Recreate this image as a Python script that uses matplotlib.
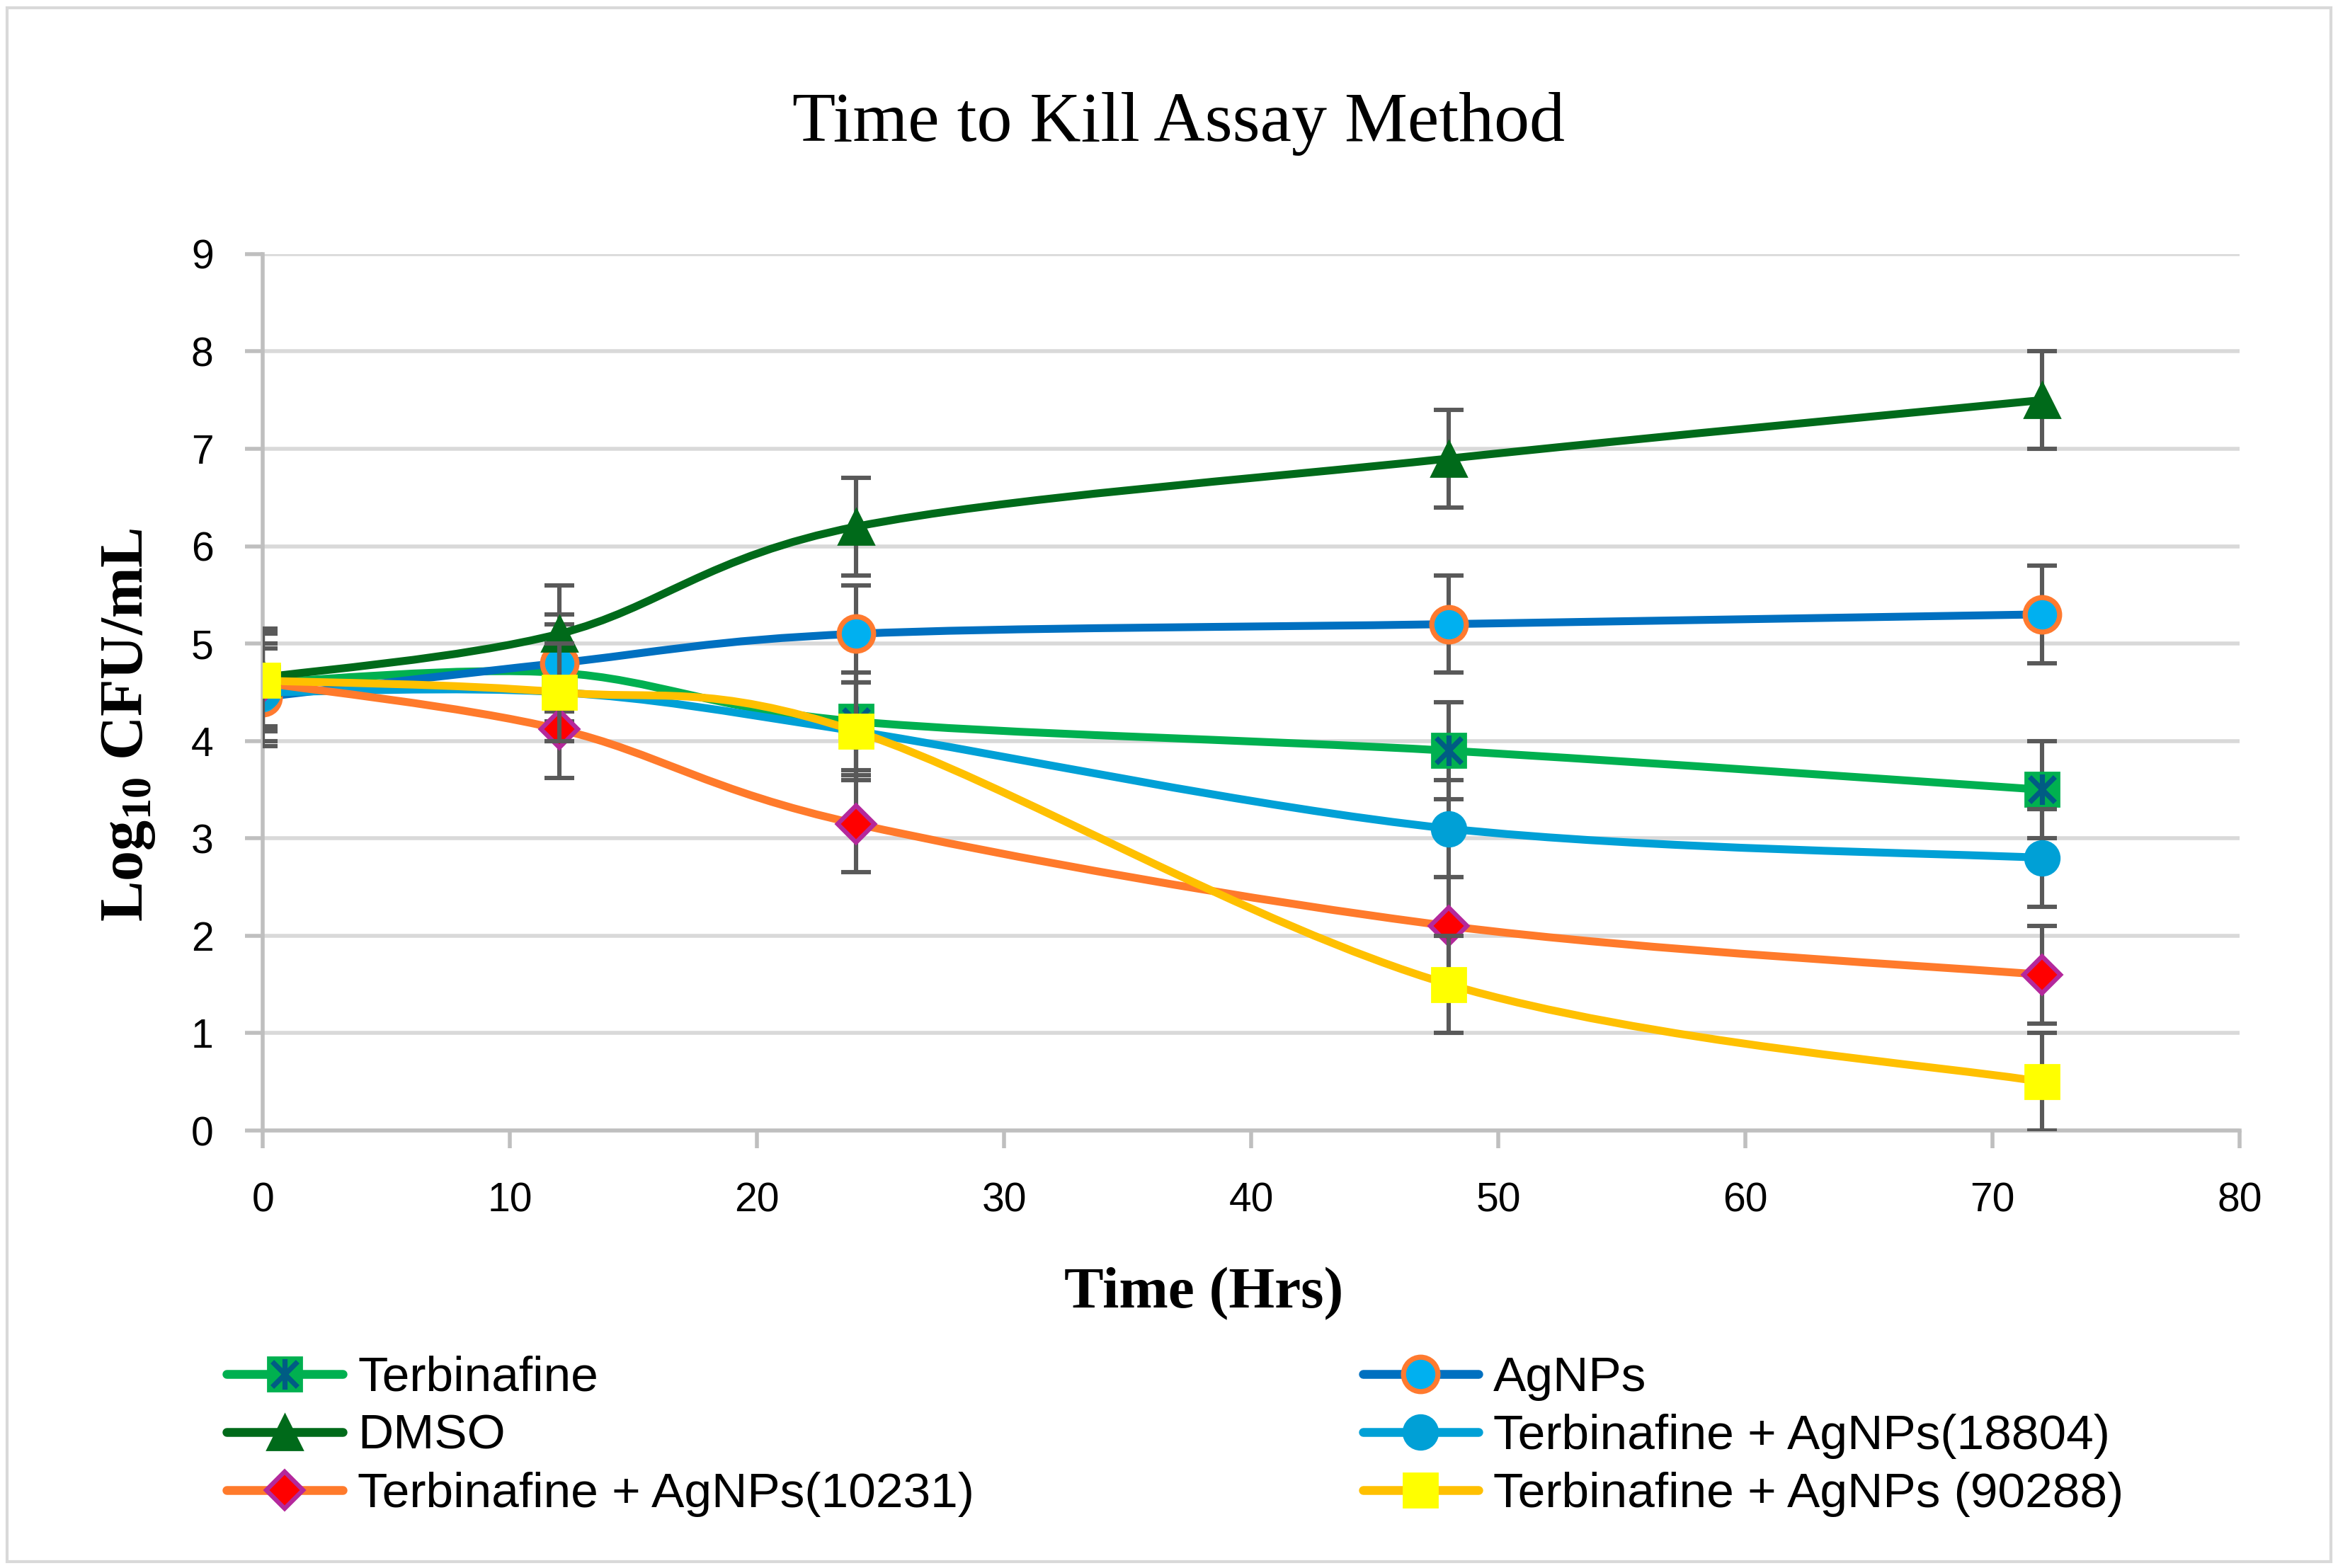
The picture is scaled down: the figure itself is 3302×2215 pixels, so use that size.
import matplotlib
matplotlib.use('Agg')
import matplotlib.pyplot as plt
from matplotlib.path import Path
from matplotlib.patches import PathPatch, Rectangle
from matplotlib.lines import Line2D
from matplotlib.legend_handler import HandlerTuple
import numpy as np

plt.rcParams['font.family'] = ['Liberation Sans', 'DejaVu Sans']
plt.rcParams['mathtext.default'] = 'regular'

# data (Log10 CFU/mL vs time in hours)
hours = [0, 12, 24, 48, 72]
terbinafine = [4.6, 4.7, 4.2, 3.9, 3.5]
agnps = [4.45, 4.8, 5.1, 5.2, 5.3]
dmso = [4.65, 5.1, 6.2, 6.9, 7.5]
terb_agnps_18804 = [4.5, 4.5, 4.1, 3.1, 2.8]
terb_agnps_10231 = [4.6, 4.12, 3.15, 2.1, 1.6]
terb_agnps_90288 = [4.62, 4.5, 4.1, 1.5, 0.5]
std_err = [0.5, 0.5, 0.5, 0.5, 0.5]

labels = ['Terbinafine', 'AgNPs', 'DMSO', 'Terbinafine + AgNPs(18804)',
          'Terbinafine + AgNPs(10231)', 'Terbinafine + AgNPs (90288)']


def smooth_path(x, y):
    '''Excel-like smoothed line: Catmull-Rom segments as cubic beziers'''
    pts = np.column_stack([x, y]).astype(float)
    ext = np.vstack([pts[0], pts, pts[-1]])
    verts = [pts[0]]
    codes = [Path.MOVETO]
    for i in range(len(pts) - 1):
        p0, p1, p2, p3 = ext[i], ext[i + 1], ext[i + 2], ext[i + 3]
        verts += [p1 + (p2 - p0) / 6, p2 - (p3 - p1) / 6, p2]
        codes += [Path.CURVE4] * 3
    return Path(verts, codes)


star_path = Path([(-1, -1), (1, 1), (-1, 1), (1, -1), (0, -1.2), (0, 1.2)],
                 [Path.MOVETO, Path.LINETO] * 3)

fig = plt.figure(figsize=(16.51, 11.075), dpi=200)
ax = fig.add_axes([0.1124, 0.279, 0.8456, 0.559])

LW = 4.0
series = [
    (terbinafine, '#00B050', dict(marker='s', ms=17.5, mfc='#00B050', mec='#00B050', mew=1)),
    (agnps, '#0070C0', dict(marker='o', ms=17.5, mfc='#00B0F0', mec='#FF7A2F', mew=2.6)),
    (dmso, '#006A1A', dict(marker='^', ms=18, mfc='#006A1A', mec='#006A1A', mew=1)),
    (terb_agnps_18804, '#00A0D6', dict(marker='o', ms=17.5, mfc='#00A0D6', mec='#00A0D6', mew=1)),
    (terb_agnps_10231, '#FF7A2B', dict(marker='D', ms=13, mfc='#FF0000', mec='#B4289C', mew=2.3)),
    (terb_agnps_90288, '#FFC000', dict(marker='s', ms=17.5, mfc='#FFFF00', mec='#FFFF00', mew=1)),
]

handles = []
for i, (vals, color, mk) in enumerate(series):
    z = 3 + i
    ax.errorbar(hours, vals, yerr=std_err, fmt='none', ecolor='#595959',
                elinewidth=2.2, capsize=7.5, capthick=2.2, zorder=z)
    ax.add_patch(PathPatch(smooth_path(hours, vals), fill=False, edgecolor=color,
                           lw=LW, capstyle='round', zorder=z + 0.1))
    ax.plot(hours, vals, linestyle='none', zorder=z + 0.2, **mk)
    h = Line2D([], [], color=color, lw=LW + 0.5, solid_capstyle='round', **mk)
    if i == 0:
        ax.plot(hours, vals, linestyle='none', marker=star_path, ms=15.5,
                mfc='none', mec='#005C84', mew=2.6, zorder=z + 0.3)
        h = (h, Line2D([], [], linestyle='none', marker=star_path, ms=15.5,
                       mfc='none', mec='#005C84', mew=2.6))
    handles.append(h)

ax.set_xlim(0, 80)
ax.set_ylim(0, 9)
ax.set_xticks(range(0, 81, 10))
ax.set_yticks(range(0, 10))
ax.yaxis.grid(True, color='#D9D9D9', lw=2)
ax.set_axisbelow(True)
for s in ['top', 'right']:
    ax.spines[s].set_visible(False)
for s in ['left', 'bottom']:
    ax.spines[s].set_color('#BFBFBF')
    ax.spines[s].set_linewidth(2)
ax.tick_params(axis='both', colors='#BFBFBF', length=9, width=2, labelsize=20.5,
               labelcolor='black')
ax.tick_params(axis='x', pad=17)
ax.tick_params(axis='y', pad=16)

fig.text(0.504, 0.921, 'Time to Kill Assay Method', ha='center', va='center',
         fontsize=36, family='Liberation Serif')
fig.text(0.515, 0.175, 'Time (Hrs)', ha='center', va='center', fontsize=30,
         family='Liberation Serif', weight='bold')
fig.text(0.055, 0.538, 'Log$_{10}$ CFU/mL', ha='center', va='center', rotation=90,
         fontsize=31, family='Liberation Serif', weight='bold')

# legend: column 1 = Terbinafine, DMSO, 10231 ; column 2 = AgNPs, 18804, 90288
order = [0, 2, 4, 1, 3, 5]
ax.legend([handles[k] for k in order], [labels[k] for k in order], ncol=2,
          loc='upper left', bbox_to_anchor=(0.097, 0.1355), bbox_transform=fig.transFigure,
          frameon=False, fontsize=25, handlelength=2.36, handletextpad=0.3,
          columnspacing=7.9, labelspacing=0.26, borderpad=0, borderaxespad=0,
          handler_map={tuple: HandlerTuple(ndivide=1)})

fig.patches.append(Rectangle((0.003, 0.004), 0.994, 0.991, transform=fig.transFigure,
                             fill=False, edgecolor='#D9D9D9', lw=1.5))

fig.savefig('out.png', dpi=200)
